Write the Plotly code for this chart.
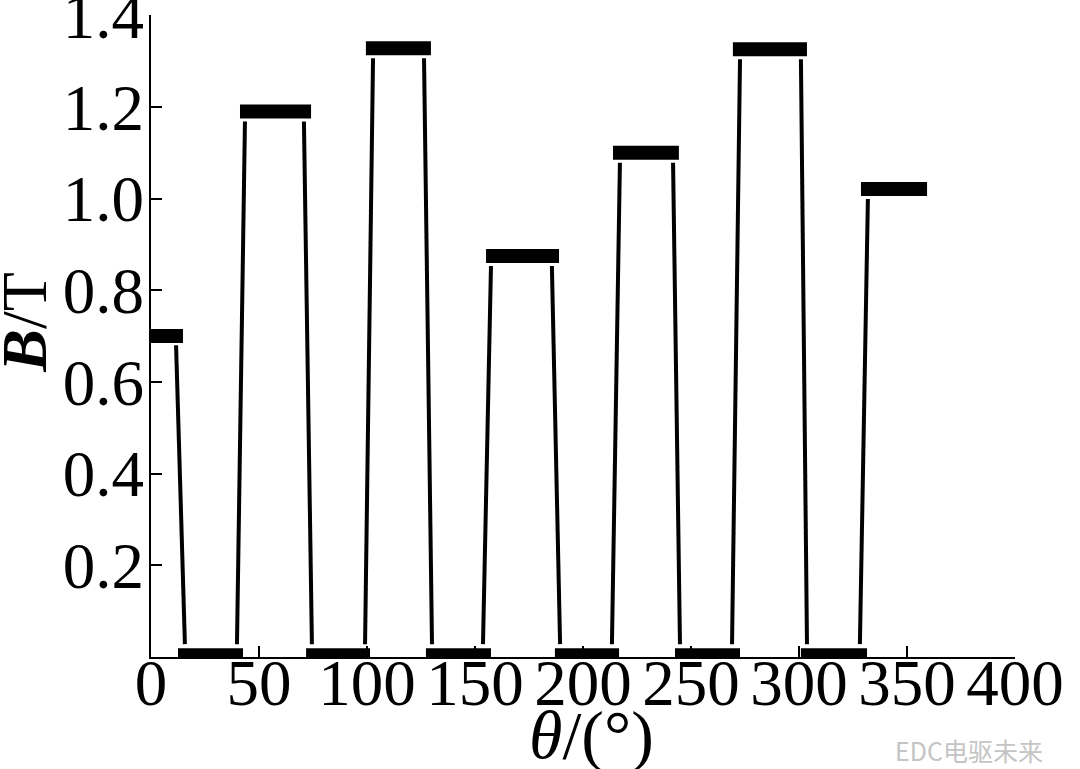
import plotly.graph_objects as go

# Plateau segments (thick bars): start angle, end angle, flux density
high_start = [-2.8, 41.2, 99.5, 155.1, 213.9, 269.4, 328.7]
high_end = [14.8, 74.1, 129.6, 188.9, 244.4, 303.7, 359.3]
high_B = [0.70, 1.19, 1.328, 0.875, 1.10, 1.326, 1.021]

low_start = [12.5, 71.8, 127.3, 187.0, 242.6, 300.9]
low_end = [42.6, 101.4, 157.4, 216.7, 272.7, 331.5]
low_B = [0.004, 0.004, 0.004, 0.004, 0.004, 0.004]

# Transition lines (thin): each pair = (start point, end point)
trans_theta = [(11.6, 15.7), (39.8, 43.5), (70.8, 74.5), (99.1, 102.8), (126.4, 130.1),
               (153.7, 157.4), (185.6, 189.4), (213.4, 217.1), (241.7, 244.9),
               (269.0, 272.7), (300.9, 303.7), (328.2, 331.9)]
trans_B = [(0.68, 0.028), (0.028, 1.168), (1.168, 0.028), (0.028, 1.306), (1.306, 0.028),
           (0.028, 0.853), (0.853, 0.028), (0.028, 1.078), (1.078, 0.028),
           (0.028, 1.304), (1.304, 0.028), (0.028, 0.999)]

x_ticks = [0, 50, 100, 150, 200, 250, 300, 350, 400]
y_ticks = [0.2, 0.4, 0.6, 0.8, 1.0, 1.2, 1.4]

fig = go.Figure()

# thin transition lines
tx, ty = [], []
for (a, b), (c, d) in zip(trans_theta, trans_B):
    tx += [a, b, None]
    ty += [c, d, None]
fig.add_trace(go.Scatter(x=tx, y=ty, mode="lines", line=dict(color="black", width=4),
                         hoverinfo="skip", showlegend=False, cliponaxis=False))

# thick plateau bars
bx, by = [], []
for s, e, v in zip(high_start, high_end, high_B):
    bx += [s, e, None]
    by += [v, v, None]
for s, e, v in zip(low_start, low_end, low_B):
    bx += [s, e, None]
    by += [v, v, None]
fig.add_trace(go.Scatter(x=bx, y=by, mode="lines", line=dict(color="black", width=14),
                         hoverinfo="skip", showlegend=False, cliponaxis=False))

font_main = "Liberation Serif, Times New Roman, serif"
tick_size = 65

fig.update_layout(
    width=1080, height=769,
    margin=dict(l=151, r=65, t=15, b=112, autoexpand=False),
    paper_bgcolor="white", plot_bgcolor="white",
    font=dict(family=font_main, color="black", size=tick_size),
    xaxis=dict(range=[0, 400.01], tickvals=x_ticks, ticktext=[str(v) for v in x_ticks],
               tickangle=0, ticks="inside", ticklen=11, tickwidth=2, tickcolor="black",
               ticklabeloverflow="allow", automargin=False, ticklabelstandoff=-32,
               showline=True, linecolor="black", linewidth=2, showgrid=False, zeroline=False,
               tickfont=dict(family=font_main, size=tick_size, color="black")),
    yaxis=dict(range=[0, 1.4005], tickvals=y_ticks, ticktext=[f"{v:.1f}" for v in y_ticks],
               ticks="inside", ticklen=11, tickwidth=2, tickcolor="black",
               ticklabeloverflow="allow", automargin=False, ticklabelstandoff=-8,
               showline=True, linecolor="black", linewidth=2, showgrid=False, zeroline=False,
               tickfont=dict(family=font_main, size=tick_size, color="black")),
    annotations=[
        dict(text="<b><i>B</i></b>/T", xref="paper", yref="paper", x=-0.146, y=0.522,
             textangle=-90, showarrow=False, xanchor="center", yanchor="middle",
             font=dict(family=font_main, size=64, color="black")),
        dict(text="<i>θ</i>/(°)", xref="paper", yref="paper", x=0.51, y=-0.1215,
             showarrow=False, xanchor="center", yanchor="middle",
             font=dict(family=font_main, size=68, color="black")),
        dict(text="EDC电驱未来", xref="paper", yref="paper", x=1.035, y=-0.145,
             showarrow=False, xanchor="right", yanchor="middle",
             font=dict(family="Noto Sans CJK SC", size=25, color="#c4c4c4")),
    ],
)

fig.write_html("out.html", config={"displayModeBar": False},
               post_script="document.body.style.margin='0';document.body.style.overflow='hidden';")
